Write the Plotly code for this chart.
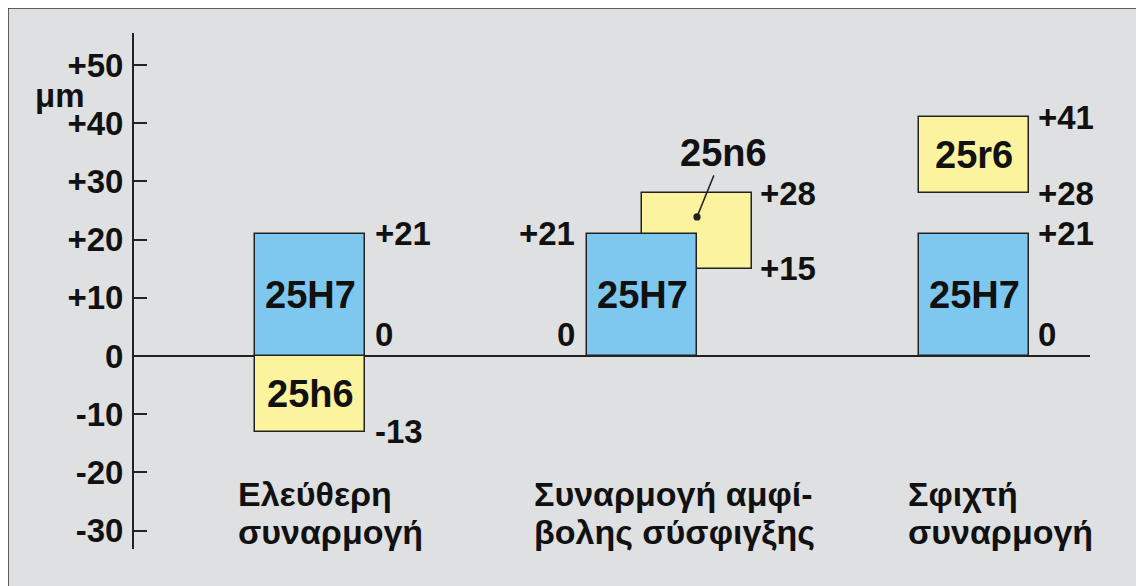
import plotly.graph_objects as go

# ---------------- data ----------------
categories = ["Ελεύθερη<br>συναρμογή", "Συναρμογή αμφί-<br>βολης σύσφιγξης", "Σφιχτή<br>συναρμογή"]
hole_names = ["25H7", "25H7", "25H7"]
hole_lower = [0, 0, 0]
hole_upper = [21, 21, 21]
shaft_names = ["25h6", "25n6", "25r6"]
shaft_lower = [-13, 15, 28]
shaft_upper = [0, 28, 41]
tick_vals = [-30, -20, -10, 0, 10, 20, 30, 40, 50]
tick_text = ["-30", "-20", "-10", "0", "+10", "+20", "+30", "+40", "+50"]
unit_label = "μm"

# ---------------- layout geometry (reference pixels; page body has an 8px margin) ----------------
OFF = 8
W, H = 1144 - OFF, 586 - OFF
L, R, T, B = 134 - OFF, 1090 - OFF, 33 - OFF, 549 - OFF
Y0PX, YSCALE = 356 - OFF, 5.82
X0PX, XUNIT = 310 - OFF, 332
BAR_W = 110 / XUNIT

def pxx(px):
    return (px - OFF - L) / (R - L)

def pxy(py):
    return (B - (py - OFF)) / (B - T)

FONT = "Liberation Sans, Arial, sans-serif"
BLUE = "#7ec8f0"
YELLOW = "#fbf39d"
EDGE = "#222222"
BG = "#dfe0e2"

hole_x = [0, 1, 2]
shaft_x = [0, 1 + BAR_W / 2, 2]

fig = go.Figure()
fig.add_trace(go.Bar(
    x=shaft_x, base=shaft_lower,
    y=[u - l for u, l in zip(shaft_upper, shaft_lower)],
    width=BAR_W, marker=dict(color=YELLOW, line=dict(color=EDGE, width=1.5)),
    hoverinfo="skip", showlegend=False))
fig.add_trace(go.Bar(
    x=hole_x, base=hole_lower,
    y=[u - l for u, l in zip(hole_upper, hole_lower)],
    width=BAR_W, marker=dict(color=BLUE, line=dict(color=EDGE, width=1.5)),
    hoverinfo="skip", showlegend=False))

def fmt(v):
    return "0" if v == 0 else f"{v:+d}"

ann = []
box_font = dict(family=FONT, size=38, color="#111", weight="bold")
val_font = dict(family=FONT, size=33, color="#111", weight="bold")

for i in range(3):
    ann.append(dict(x=hole_x[i], y=(hole_lower[i] + hole_upper[i]) / 2, text=hole_names[i],
                    showarrow=False, font=box_font))
for i in (0, 2):
    ann.append(dict(x=shaft_x[i], y=(shaft_lower[i] + shaft_upper[i]) / 2, text=shaft_names[i],
                    showarrow=False, font=box_font))
ann.append(dict(x=shaft_x[1], y=23.9, text=shaft_names[1], showarrow=True,
                ax=26, ay=-64, arrowhead=6, arrowsize=1.2, arrowwidth=1.5,
                arrowcolor=EDGE, font=box_font))

def val(x, y, v, side, shift, zero=False):
    d = dict(x=x, y=y, text=fmt(v), showarrow=False, font=val_font,
             xanchor="left" if side == "r" else "right", xshift=shift)
    if zero:
        d.update(yanchor="bottom", yshift=1)
    return d

ann.append(val(hole_x[0] + BAR_W / 2, hole_upper[0], hole_upper[0], "r", 8))
ann.append(val(hole_x[0] + BAR_W / 2, hole_lower[0], hole_lower[0], "r", 8, True))
ann.append(val(shaft_x[0] + BAR_W / 2, shaft_lower[0], shaft_lower[0], "r", 8))
ann.append(val(hole_x[1] - BAR_W / 2, hole_upper[1], hole_upper[1], "l", -10))
ann.append(val(hole_x[1] - BAR_W / 2, hole_lower[1], hole_lower[1], "l", -10, True))
ann.append(val(shaft_x[1] + BAR_W / 2, shaft_upper[1], shaft_upper[1], "r", 6))
ann.append(val(shaft_x[1] + BAR_W / 2, shaft_lower[1], shaft_lower[1], "r", 6))
ann.append(val(shaft_x[2] + BAR_W / 2, shaft_upper[2], shaft_upper[2], "r", 7))
ann.append(val(shaft_x[2] + BAR_W / 2, shaft_lower[2], shaft_lower[2], "r", 7))
ann.append(val(hole_x[2] + BAR_W / 2, hole_upper[2], hole_upper[2], "r", 7))
ann.append(val(hole_x[2] + BAR_W / 2, hole_lower[2], hole_lower[2], "r", 7, True))

# category labels, one annotation per line for tight line spacing
cat_left_px = [236, 532, 906]
line_y_px = [494, 532]
for txt, lx in zip(categories, cat_left_px):
    for line, ly in zip(txt.split("<br>"), line_y_px):
        ann.append(dict(xref="paper", yref="paper", x=pxx(lx), y=pxy(ly), text=line,
                        showarrow=False, xanchor="left", yanchor="middle", align="left",
                        font=dict(family=FONT, size=34, color="#111", weight="bold")))

ann.append(dict(xref="paper", yref="paper", x=pxx(60), y=pxy(95), text=unit_label,
                showarrow=False, xanchor="center", yanchor="middle",
                font=dict(family=FONT, size=33, color="#111", weight="bold")))

fig.update_layout(
    width=W, height=H,
    margin=dict(l=L, r=W - R, t=T, b=H - B, autoexpand=False),
    paper_bgcolor="white", plot_bgcolor="rgba(0,0,0,0)",
    barmode="overlay", bargap=0,
    annotations=ann,
    shapes=[dict(type="rect", xref="paper", yref="paper", layer="below",
                 x0=pxx(8), x1=pxx(1138), y0=pxy(640), y1=pxy(8),
                 fillcolor=BG, line=dict(color="#333", width=1.5))],
    xaxis=dict(range=[(L - X0PX) / XUNIT, (R - X0PX) / XUNIT], visible=False, fixedrange=True),
    yaxis=dict(range=[-(B - Y0PX) / YSCALE, (Y0PX - T) / YSCALE],
               tickvals=tick_vals, ticktext=tick_text,
               ticks="inside", ticklen=13, tickwidth=2, tickcolor=EDGE,
               showline=True, linewidth=2, linecolor=EDGE,
               showgrid=False, zeroline=True, zerolinecolor=EDGE, zerolinewidth=2,
               ticklabelstandoff=2, automargin=False,
               tickfont=dict(family=FONT, size=33, color="#111", weight="bold"),
               fixedrange=True),
)

fig.write_html("out.html")
